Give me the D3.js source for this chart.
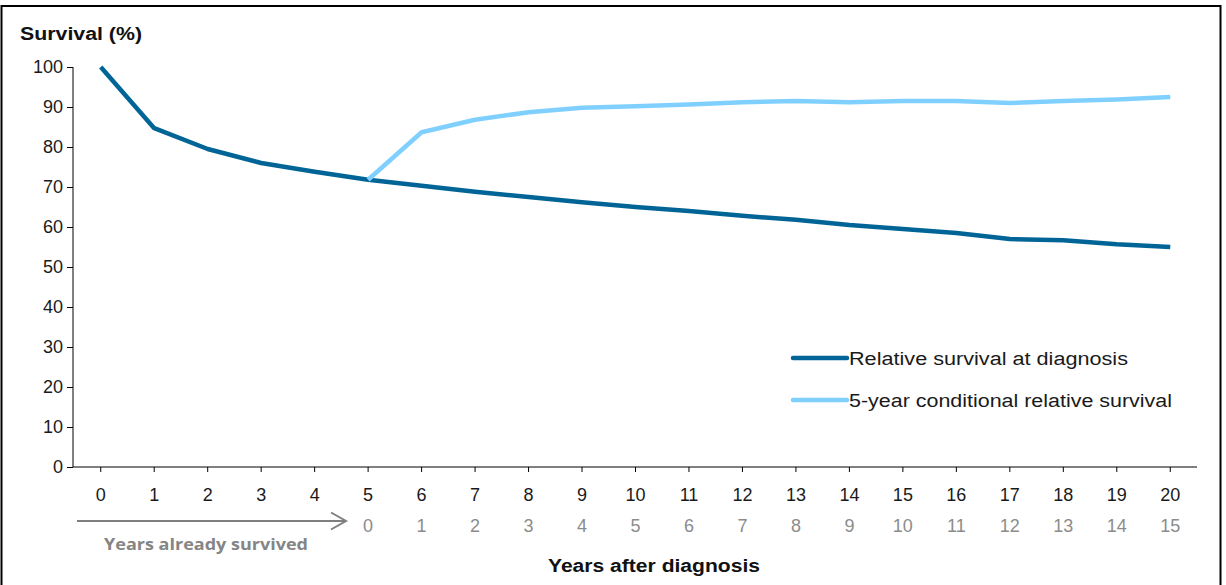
<!DOCTYPE html>
<html>
<head>
<meta charset="utf-8">
<script src="https://cdn.jsdelivr.net/npm/d3@7"></script>
<style>
  html, body { margin: 0; padding: 0; background: #fff; }
  svg { display: block; }
</style>
</head>
<body>
<svg id="chart" width="1226" height="585"></svg>
<script>
const yearsAfterDiagnosis = [0,1,2,3,4,5,6,7,8,9,10,11,12,13,14,15,16,17,18,19,20];
const yearsAlreadySurvived = ["","","","","","0","1","2","3","4","5","6","7","8","9","10","11","12","13","14","15"];
const relativeSurvival = [100,84.7,79.5,76,73.8,71.8,70.3,68.8,67.5,66.2,65,64,62.8,61.8,60.5,59.5,58.5,57,56.7,55.7,55];
const conditionalSurvival = [null,null,null,null,null,71.8,83.7,86.8,88.7,89.8,90.2,90.6,91.2,91.5,91.2,91.5,91.5,91,91.5,91.9,92.5];
const yTicks = [0,10,20,30,40,50,60,70,80,90,100];
const seriesNames = ["Relative survival at diagnosis","5-year conditional relative survival"];
const seriesColors = ["#006596","#80d0ff"];

const svg = d3.select("#chart");
const font = "Liberation Sans, Arial, sans-serif";

// frame
svg.append("rect").attr("x",1.5).attr("y",6).attr("width",1219).attr("height",590)
  .attr("fill","none").attr("stroke","#000").attr("stroke-width",2);

const x = d3.scaleBand().domain(yearsAfterDiagnosis).range([74,1197]);
const y = d3.scaleLinear().domain([0,100]).range([467,67]);

// y axis
const yAxis = svg.append("g").attr("transform","translate(73,0)")
  .call(d3.axisLeft(y).tickValues(yTicks).tickSize(6).tickPadding(4));
yAxis.select(".domain").attr("stroke","#000").attr("d","M0,67V467");
yAxis.selectAll(".tick line").attr("stroke","#000");
yAxis.selectAll("text").attr("font-family",font).attr("font-size",18).attr("fill","#1a1a1a");

// x axis
const xAxis = svg.append("g").attr("transform","translate(0,467)")
  .call(d3.axisBottom(x).tickSize(5).tickSizeOuter(0).tickPadding(16));
xAxis.select(".domain").attr("stroke","#000").attr("d","M73,0H1197");
xAxis.selectAll(".tick line").attr("stroke","#000");
xAxis.selectAll("text").attr("font-family",font).attr("font-size",18).attr("fill","#1a1a1a");

// second row of labels
svg.append("g").selectAll("text").data(yearsAfterDiagnosis).join("text")
  .attr("x", d => x(d) + x.bandwidth()/2)
  .attr("y", 532)
  .attr("text-anchor","middle")
  .attr("font-family",font).attr("font-size",18).attr("fill","#8c8c8c")
  .text((d,i) => yearsAlreadySurvived[i]);

// arrow
svg.append("line").attr("x1",77).attr("x2",345).attr("y1",521).attr("y2",521)
  .attr("stroke","#7f7f7f").attr("stroke-width",2);
svg.append("path").attr("d","M331,512.5L346,521L331,529.5")
  .attr("fill","none").attr("stroke","#7f7f7f").attr("stroke-width",2);
svg.append("text").attr("x",104).attr("y",550)
  .attr("font-family","Open Sans, sans-serif").attr("font-weight","bold").attr("font-size",16.5)
  .attr("fill","#858585").attr("textLength",204).attr("lengthAdjust","spacingAndGlyphs")
  .text("Years already survived");

// titles
svg.append("text").attr("x",20).attr("y",40)
  .attr("font-family",font).attr("font-weight","bold").attr("font-size",18).attr("fill","#111")
  .attr("textLength",122).attr("lengthAdjust","spacingAndGlyphs")
  .text("Survival (%)");
svg.append("text").attr("x",548).attr("y",572)
  .attr("font-family",font).attr("font-weight","bold").attr("font-size",18).attr("fill","#111")
  .attr("textLength",212).attr("lengthAdjust","spacingAndGlyphs")
  .text("Years after diagnosis");

// lines
const line = d3.line()
  .defined(d => d.v !== null)
  .x(d => x(d.t) + x.bandwidth()/2)
  .y(d => y(d.v));

const s1 = yearsAfterDiagnosis.map((t,i) => ({t, v: relativeSurvival[i]}));
const s2 = yearsAfterDiagnosis.map((t,i) => ({t, v: conditionalSurvival[i]}));

svg.append("path").datum(s1).attr("d",line).attr("fill","none")
  .attr("stroke",seriesColors[0]).attr("stroke-width",4.5).attr("stroke-linejoin","round");
svg.append("path").datum(s2).attr("d",line).attr("fill","none")
  .attr("stroke",seriesColors[1]).attr("stroke-width",4.5).attr("stroke-linejoin","round");

// legend
const legend = svg.append("g");
const legendLengths = [279, 323];
[358, 400].forEach((ly, i) => {
  legend.append("line").attr("x1",793).attr("x2",847).attr("y1",ly).attr("y2",ly)
    .attr("stroke",seriesColors[i]).attr("stroke-width",4.5).attr("stroke-linecap","round");
  legend.append("text").attr("x",849).attr("y",ly+6.5)
    .attr("font-family",font).attr("font-size",18).attr("fill","#1a1a1a")
    .attr("textLength",legendLengths[i]).attr("lengthAdjust","spacingAndGlyphs")
    .text(seriesNames[i]);
});
</script>
</body>
</html>
